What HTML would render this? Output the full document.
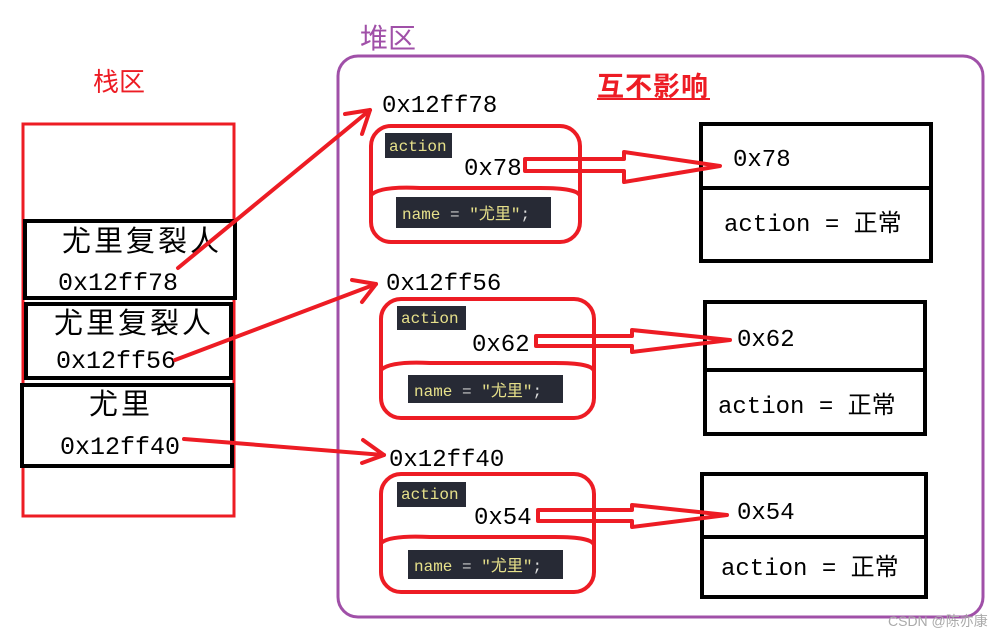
<!DOCTYPE html>
<html><head><meta charset="utf-8"><style>
html,body{margin:0;padding:0;background:#fff;}
svg{display:block;}
.t{font-family:"Liberation Mono","Noto Sans CJK SC",monospace;fill:#000;}
.c{font-family:"Liberation Sans","Noto Sans CJK SC",sans-serif;fill:#000;}
.m{font-family:"Liberation Mono","Noto Sans CJK SC",monospace;}
</style></head><body>
<svg width="1004" height="636" viewBox="0 0 1004 636" xmlns="http://www.w3.org/2000/svg">
<rect width="1004" height="636" fill="#fff"/>
<!-- stack -->
<text x="93" y="91" class="c" font-size="26" style="fill:#ed1c24">栈区</text>
<rect x="23" y="124" width="211" height="392" fill="none" stroke="#ed1c24" stroke-width="3"/>
<rect x="25" y="221" width="210" height="77" fill="#fff" stroke="#000" stroke-width="4"/>
<rect x="26" y="304" width="205" height="74" fill="#fff" stroke="#000" stroke-width="4"/>
<rect x="22" y="385" width="210" height="81" fill="#fff" stroke="#000" stroke-width="4"/>
<text x="62" y="251" class="c" font-size="29" letter-spacing="3">尤里复裂人</text>
<text x="58" y="290" class="t" font-size="25">0x12ff78</text>
<text x="54" y="333" class="c" font-size="29" letter-spacing="3">尤里复裂人</text>
<text x="56" y="368" class="t" font-size="25">0x12ff56</text>
<text x="89" y="414" class="c" font-size="29" letter-spacing="3">尤里</text>
<text x="60" y="454" class="t" font-size="25">0x12ff40</text>
<!-- heap -->
<text x="360" y="48" class="c" font-size="28" style="fill:#a050a8">堆区</text>
<rect x="338" y="56" width="645" height="561" rx="20" fill="none" stroke="#a050a8" stroke-width="3"/>
<text x="597" y="96" class="c" font-size="27" font-weight="bold" letter-spacing="1" style="fill:#ed1c24">互不影响</text>
<line x1="597" y1="99" x2="710" y2="99" stroke="#ed1c24" stroke-width="2"/>

<!-- group 1 -->
<text x="382" y="112" class="t" font-size="24">0x12ff78</text>
<rect x="371" y="126" width="209" height="116" rx="20" fill="none" stroke="#ed1c24" stroke-width="4"/>
<path d="M371 195 Q380 186 420 188 L540 188 Q578 188 580 196" fill="none" stroke="#ed1c24" stroke-width="4"/>
<rect x="385" y="133" width="67" height="25" fill="#272a35"/>
<text x="389" y="151" class="m" font-size="16" style="fill:#e6e08a">action</text>
<text x="464" y="175" class="t" font-size="24">0x78</text>
<rect x="396" y="197" width="155" height="31" fill="#272a35"/>
<text x="402" y="219" class="m" font-size="16" style="fill:#e6e08a">name <tspan style="fill:#ccc">=</tspan> "尤里"<tspan style="fill:#ddd">;</tspan></text>
<rect x="701" y="124" width="230" height="137" fill="none" stroke="#000" stroke-width="4"/>
<line x1="701" y1="188" x2="931" y2="188" stroke="#000" stroke-width="4"/>
<text x="733" y="166" class="t" font-size="24">0x78</text>
<text x="724" y="231" class="t" font-size="24">action = 正常</text>
<polygon points="525,159 624,159 624,152 720,166 624,182 624,171 525,171" fill="none" stroke="#ed1c24" stroke-width="4" stroke-linejoin="round"/>

<!-- group 2 -->
<text x="386" y="290" class="t" font-size="24">0x12ff56</text>
<rect x="381" y="299" width="213" height="119" rx="20" fill="none" stroke="#ed1c24" stroke-width="4"/>
<path d="M381 370 Q390 361 430 363 L555 363 Q592 363 594 371" fill="none" stroke="#ed1c24" stroke-width="4"/>
<rect x="397" y="306" width="69" height="24" fill="#272a35"/>
<text x="401" y="323" class="m" font-size="16" style="fill:#e6e08a">action</text>
<text x="472" y="351" class="t" font-size="24">0x62</text>
<rect x="408" y="375" width="155" height="28" fill="#272a35"/>
<text x="414" y="396" class="m" font-size="16" style="fill:#e6e08a">name <tspan style="fill:#ccc">=</tspan> "尤里"<tspan style="fill:#ddd">;</tspan></text>
<rect x="705" y="302" width="220" height="132" fill="none" stroke="#000" stroke-width="4"/>
<line x1="705" y1="370" x2="925" y2="370" stroke="#000" stroke-width="4"/>
<text x="737" y="346" class="t" font-size="24">0x62</text>
<text x="718" y="413" class="t" font-size="24">action = 正常</text>
<polygon points="536,336 632,336 632,330 730,340 632,352 632,346 536,346" fill="none" stroke="#ed1c24" stroke-width="4" stroke-linejoin="round"/>

<!-- group 3 -->
<text x="389" y="466" class="t" font-size="24">0x12ff40</text>
<rect x="381" y="474" width="213" height="118" rx="20" fill="none" stroke="#ed1c24" stroke-width="4"/>
<path d="M381 543 Q390 535 430 537 L555 537 Q592 537 594 545" fill="none" stroke="#ed1c24" stroke-width="4"/>
<rect x="397" y="482" width="69" height="25" fill="#272a35"/>
<text x="401" y="499" class="m" font-size="16" style="fill:#e6e08a">action</text>
<text x="474" y="524" class="t" font-size="24">0x54</text>
<rect x="408" y="550" width="155" height="29" fill="#272a35"/>
<text x="414" y="571" class="m" font-size="16" style="fill:#e6e08a">name <tspan style="fill:#ccc">=</tspan> "尤里"<tspan style="fill:#ddd">;</tspan></text>
<rect x="702" y="474" width="224" height="123" fill="none" stroke="#000" stroke-width="4"/>
<line x1="702" y1="537" x2="926" y2="537" stroke="#000" stroke-width="4"/>
<text x="737" y="519" class="t" font-size="24">0x54</text>
<text x="721" y="575" class="t" font-size="24">action = 正常</text>
<polygon points="538,510 632,510 632,505 727,515 632,527 632,521 538,521" fill="none" stroke="#ed1c24" stroke-width="4" stroke-linejoin="round"/>

<!-- pointer arrows -->
<g stroke="#ed1c24" stroke-width="4" fill="none" stroke-linecap="round" stroke-linejoin="round">
<line x1="178" y1="268" x2="370" y2="110"/>
<polyline points="345,114 370,110 362,134"/>
<line x1="175" y1="360" x2="376" y2="284"/>
<polyline points="352,280 376,284 362,302"/>
<line x1="184" y1="439" x2="384" y2="455"/>
<polyline points="363,440 384,455 362,463"/>
</g>
<text x="888" y="626" class="c" font-size="14" style="fill:#aaa">CSDN @陈亦康</text>
</svg>
</body></html>
